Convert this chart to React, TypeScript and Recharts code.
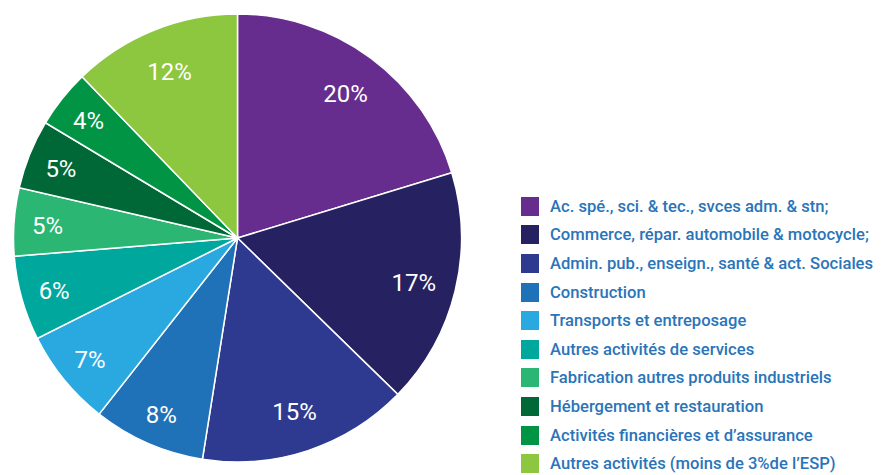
import { PieChart, Pie, Cell, Legend } from 'recharts'

const sectors = [
  'Ac. spé., sci. & tec., svces adm. & stn;',
  'Commerce, répar. automobile & motocycle;',
  'Admin. pub., enseign., santé & act. Sociales',
  'Construction',
  'Transports et entreposage',
  'Autres activités de services',
  'Fabrication autres produits industriels',
  'Hébergement et restauration',
  'Activités financières et d’assurance',
  'Autres activités (moins de 3%de l’ESP)',
]

const shares = [20.3, 17, 15.2, 8.1, 7, 6.1, 4.9, 5, 4.2, 12.2]

const colors = [
  '#662d8f',
  '#262262',
  '#2e3a8f',
  '#1f71b8',
  '#29a9e0',
  '#00a79d',
  '#2bb673',
  '#006837',
  '#009444',
  '#8dc63f',
]

const data = sectors.map((name, i) => ({ name, value: shares[i] }))

const RADIAN = Math.PI / 180

const renderLabel = (props: any) => {
  const { cx, cy, midAngle, outerRadius, value } = props
  // small slices sit a little further out in the original
  const r = outerRadius * (value < 10 ? 0.85 : 0.81)
  const x = cx + r * Math.cos(-midAngle * RADIAN)
  const y = cy + r * Math.sin(-midAngle * RADIAN)
  return (
    <text
      x={x}
      y={y + 2}
      fill='#fff'
      textAnchor='middle'
      dominantBaseline='central'
      fontSize={24}
      fontFamily='Roboto, sans-serif'
    >
      {`${Math.round(value)}%`}
    </text>
  )
}

const renderLegend = () => (
  <div style={{ fontFamily: 'Roboto, sans-serif' }}>
    {data.map((d, i) => (
      <div
        key={d.name}
        style={{ display: 'flex', alignItems: 'center', height: 28.6 }}
      >
        <span
          style={{
            width: 18,
            height: 19,
            background: colors[i],
            marginRight: 11,
            flexShrink: 0,
          }}
        />
        <span
          style={{
            color: '#2a74b9',
            fontSize: 16.6,
            fontWeight: 500,
            whiteSpace: 'nowrap',
          }}
        >
          {d.name}
        </span>
      </div>
    ))}
  </div>
)

export default function App() {
  return (
    <div style={{ position: 'absolute', left: 0, top: 0, background: '#fff' }}>
      <PieChart
        width={883}
        height={475}
        margin={{ top: 0, right: 0, bottom: 0, left: 0 }}
      >
        <Pie
          data={data}
          dataKey='value'
          nameKey='name'
          cx={237.5}
          cy={238}
          outerRadius={224}
          startAngle={90}
          endAngle={-270}
          stroke='#fff'
          strokeWidth={1.5}
          label={renderLabel}
          labelLine={false}
          isAnimationActive={false}
        >
          {data.map((d, i) => (
            <Cell key={d.name} fill={colors[i]} />
          ))}
        </Pie>
        <Legend
          content={renderLegend}
          wrapperStyle={{ position: 'absolute', left: 521, top: 192, width: 362 }}
        />
      </PieChart>
    </div>
  )
}
